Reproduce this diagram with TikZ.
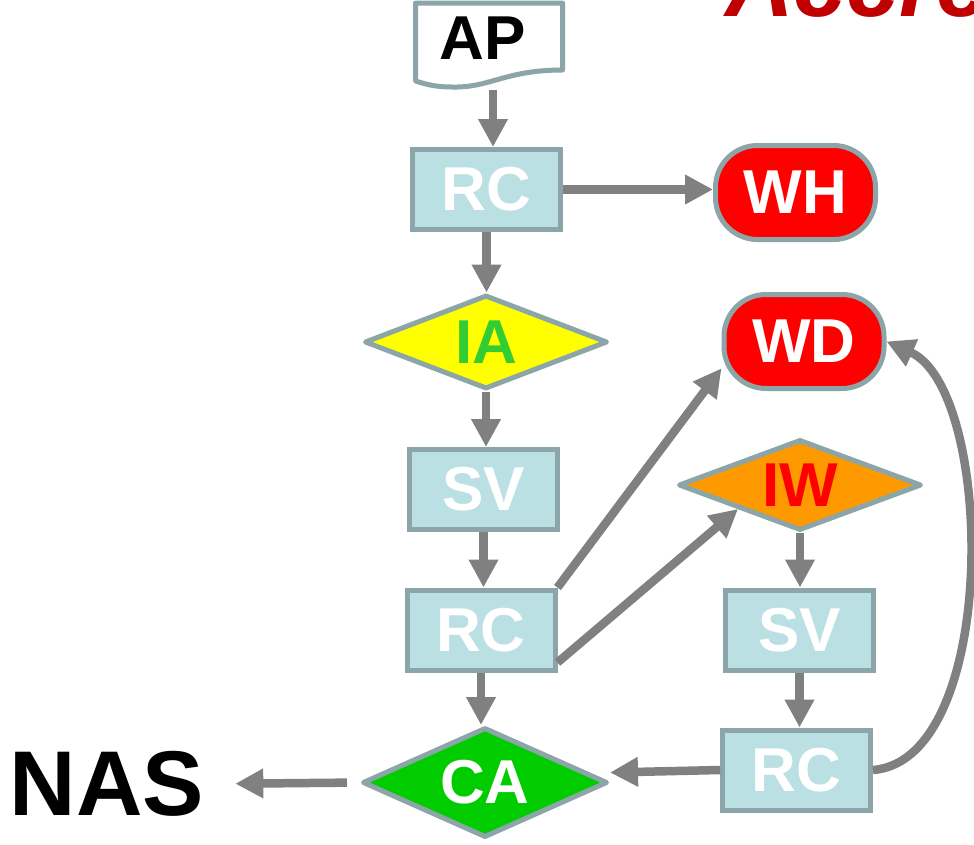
\documentclass[tikz,border=0pt]{standalone}
\usepackage{fontspec}
\setmainfont{Liberation Sans}
\usetikzlibrary{arrows.meta,shapes.geometric}
\definecolor{boxfill}{HTML}{BBE0E3}
\definecolor{boxline}{HTML}{8BA5A8}
\definecolor{argray}{HTML}{808080}
\definecolor{redfill}{HTML}{FF0000}
\definecolor{yel}{HTML}{FFFF00}
\definecolor{iagreen}{HTML}{33CC33}
\definecolor{cagreen}{HTML}{00CC00}
\definecolor{orangefill}{HTML}{FF9900}
\definecolor{titlered}{HTML}{C00000}
\begin{document}
\begin{tikzpicture}[x=1pt,y=-1pt,
  lbl/.style={font=\fontsize{62}{62}\selectfont\bfseries, text=white},
  box/.style={lbl, draw=boxline, fill=boxfill, line width=5pt, minimum width=148pt, minimum height=80pt, inner sep=0pt},
  stadium/.style={lbl, draw=boxline, fill=redfill, line width=5pt, rounded corners=42pt, minimum width=160pt, minimum height=94pt, inner sep=0pt},
  dia/.style={lbl, diamond, draw=boxline, line width=5pt, inner sep=0pt, line join=round},
  conn/.style={draw=argray, line width=8.5pt, -{Triangle[length=28pt,width=28pt]}},
]
\useasboundingbox (0,0) rectangle (974,844);
\clip (0,0) rectangle (974,844);
\fill[white] (0,0) rectangle (974,844);

% title (cut at top, as in the reference)
\node[anchor=base west, text=titlered, font=\fontsize{95}{95}\selectfont\bfseries\itshape, inner sep=0pt] (title) at (725,16) {Accre};

% AP document shape
\draw[draw=boxline, fill=white, line width=5pt, line join=round]
  (415.5,3) -- (562.5,3) -- (562.5,70)
  .. controls (505,70) and (490,88) .. (452,87)
  .. controls (435,87) and (425,84) .. (415.5,81) -- cycle;
\node[lbl, text=black, inner sep=0pt] (ap) at (483,38) {AP};
\coordinate (apbot) at (493,90);

% nodes
\node[box] (rc1) at (486.5,189.5) {RC};
\node[stadium] (wh) at (795.5,192.5) {WH};
\node[dia, fill=yel, text=iagreen, aspect=2.59, minimum width=243pt, minimum height=94pt] (ia) at (486,342) {IA};
\node[stadium] (wd) at (804,341.5) {WD};
\node[box] (sv1) at (483.5,489.5) {SV};
\node[dia, fill=orangefill, text=redfill, aspect=2.67, minimum width=243pt, minimum height=91pt] (iw) at (800,485) {IW};
\node[box] (rc2) at (481,630) {RC};
\node[box] (sv2) at (799.5,630) {SV};
\node[dia, fill=cagreen, aspect=2.23, minimum width=245pt, minimum height=110pt] (ca) at (485,782.5) {CA};
\node[box] (rc3) at (796.5,770) {RC};
\node[font=\fontsize{92}{92}\selectfont\bfseries, inner sep=0pt] (nas) at (107,784) {NAS};

% connectors
\draw[conn] (apbot) -- (apbot |- rc1.north);
\draw[conn] (rc1.east) -- (rc1.east -| wh.west);
\draw[conn] (rc1.south) -- (rc1.south |- ia.north);
\draw[conn] (ia.south) -- (ia.south |- sv1.north);
\draw[conn] (sv1.south) -- (sv1.south |- rc2.north);
\draw[conn] (rc2.south) -- (rc2.south |- ca.north);
\draw[conn] (rc2.north east) -- (wd.198);
\draw[conn] (rc2.-23) -- (iw.south west);
\draw[conn] (iw.south) -- (iw.south |- sv2.north);
\draw[conn] (sv2.south) -- (sv2.south |- rc3.north);
\draw[conn] (rc3.west) -- ([yshift=10pt]ca.east);
\draw[conn, shorten <=13pt, shorten >=31pt] (ca.west) -- (nas.east);
\draw[conn] (rc3.east) .. controls (1000,760) and (995,390) .. (wd.east);
\end{tikzpicture}
\end{document}
